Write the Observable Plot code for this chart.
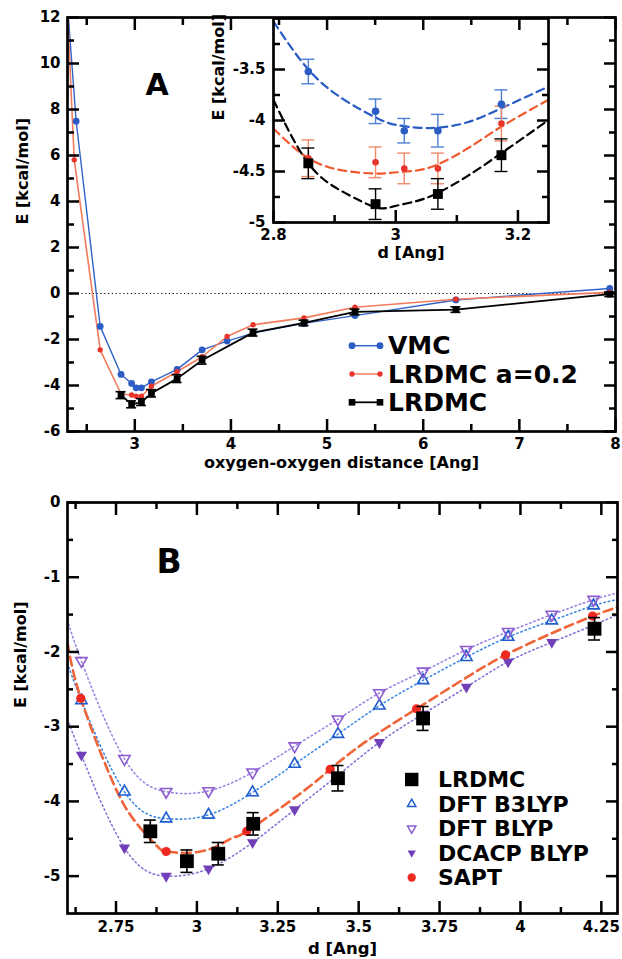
<!DOCTYPE html>
<html>
<head>
<meta charset="utf-8">
<script src="https://cdn.jsdelivr.net/npm/d3@7"></script>
<script src="https://cdn.jsdelivr.net/npm/@observablehq/plot@0.6"></script>
<style>
  html, body { margin: 0; padding: 0; background: #fff; }
  #fig { position: relative; width: 622px; height: 959px; overflow: hidden; background: #fff; }
  #fig > svg { position: absolute; }
</style>
</head>
<body>
<div id="fig"></div>
<script>
// ---------------- Panel A : main curves ----------------
const seriesA = ["VMC", "LRDMC a=0.2", "LRDMC"];
const vmcX   = [2.22, 2.39, 2.64, 2.857, 2.967, 3.014, 3.069, 3.173, 3.44, 3.70, 3.96, 4.23, 4.76, 5.29, 6.34, 7.94];
const vmcE   = [17.0, 7.49, -1.43, -3.52, -3.91, -4.10, -4.10, -3.84, -3.30, -2.45, -2.07, -1.72, -1.30, -0.96, -0.28, 0.22];
const lr02X  = [2.22, 2.37, 2.64, 2.857, 2.967, 3.014, 3.069, 3.173, 3.44, 3.70, 3.96, 4.23, 4.76, 5.29, 6.34, 7.94];
const lr02E  = [19.6, 5.81, -2.45, -4.37, -4.41, -4.47, -4.47, -4.03, -3.40, -2.75, -1.87, -1.36, -1.06, -0.60, -0.25, 0.05];
const lrdmcX   = [2.857, 2.967, 3.069, 3.173, 3.44, 3.70, 4.23, 4.76, 5.29, 6.34, 7.94];
const lrdmcE   = [-4.42, -4.82, -4.72, -4.34, -3.70, -2.90, -1.70, -1.28, -0.80, -0.70, -0.03];
const lrdmcErr = [0.15, 0.15, 0.15, 0.16, 0.17, 0.17, 0.15, 0.12, 0.12, 0.12, 0.10];
const zeroLineX = [2.45, 8];
const aXMajor = [3, 4, 5, 6, 7, 8];
const aXMinor = [2.5, 3.5, 4.5, 5.5, 6.5, 7.5];
const aYMajor = [12, 10, 8, 6, 4, 2, 0, -2, -4, -6];
const aYMinor = [11, 9, 7, 5, 3, 1, -1, -3, -5];

// ---------------- Panel A : inset ----------------
const insetD        = [2.857, 2.967, 3.014, 3.069, 3.173];
const insetVmcE     = [-3.52, -3.91, -4.10, -4.10, -3.84];
const insetVmcErr   = [0.12, 0.12, 0.12, 0.16, 0.14];
const insetLr02E    = [-4.37, -4.41, -4.47, -4.47, -4.03];
const insetLr02Err  = [0.18, 0.15, 0.15, 0.15, 0.17];
const insetLrdmcD   = [2.857, 2.967, 3.069, 3.173];
const insetLrdmcE   = [-4.42, -4.82, -4.72, -4.34];
const insetLrdmcErr = [0.15, 0.15, 0.15, 0.16];
const insetFitD     = [2.8, 2.857, 2.914, 2.967, 2.998, 3.034, 3.069, 3.116, 3.173, 3.249];
const insetFitVmc   = [-3.03, -3.50, -3.79, -3.97, -4.04, -4.07, -4.07, -4.02, -3.88, -3.67];
const insetFitLr02  = [-4.08, -4.37, -4.49, -4.52, -4.51, -4.49, -4.43, -4.28, -4.06, -3.80];
const insetFitLrdmc = [-3.80, -4.42, -4.70, -4.85, -4.84, -4.79, -4.71, -4.55, -4.32, -4.00];
const inXMajor = [2.8, 3, 3.2];
const inXMinor = [2.9, 3.1];
const inYMajor = [-3.5, -4, -4.5, -5];
const inYMinor = [-3.25, -3.75, -4.25, -4.75];

// ---------------- Panel B ----------------
const seriesB = ["LRDMC", "DFT B3LYP", "DFT BLYP", "DCACP BLYP", "SAPT"];
const bLrdmcD   = [2.856, 2.969, 3.066, 3.174, 3.436, 3.699, 4.229];
const bLrdmcE   = [-4.40, -4.80, -4.70, -4.30, -3.69, -2.89, -1.69];
const bLrdmcErr = [0.15, 0.15, 0.15, 0.15, 0.17, 0.16, 0.15];
const dftD   = [2.643, 2.776, 2.905, 3.036, 3.172, 3.302, 3.436, 3.564, 3.699, 3.833, 3.962, 4.097, 4.226];
const b3lypE = [-2.65, -3.87, -4.23, -4.18, -3.88, -3.50, -3.10, -2.72, -2.38, -2.07, -1.80, -1.58, -1.38];
const blypE  = [-2.12, -3.43, -3.87, -3.86, -3.61, -3.26, -2.90, -2.55, -2.26, -1.97, -1.73, -1.50, -1.30];
const dcacpE = [-3.38, -4.62, -5.00, -4.90, -4.55, -4.11, -3.65, -3.21, -2.83, -2.47, -2.13, -1.87, -1.64];
const fitEdgeD   = [2.6, 4.3];
const b3lypEdge  = [-2.15, -1.30];
const blypEdge   = [-1.57, -1.21];
const dcacpEdge  = [-2.90, -1.50];
const saptD = [2.641, 2.905, 3.154, 3.412, 3.679, 3.954, 4.223];
const saptE = [-2.62, -4.67, -4.40, -3.57, -2.76, -2.04, -1.52];
const saptFitD = [2.6, 2.641, 2.733, 2.804, 2.877, 2.905, 2.968, 3.051, 3.113, 3.154, 3.318, 3.412, 3.522, 3.679, 3.83, 3.954, 4.097, 4.223, 4.3];
const saptFitE = [-1.88, -2.62, -3.67, -4.24, -4.60, -4.67, -4.69, -4.62, -4.48, -4.40, -3.90, -3.57, -3.20, -2.76, -2.35, -2.04, -1.75, -1.52, -1.40];
const bXMajor = [2.75, 3, 3.25, 3.5, 3.75, 4, 4.25];
const bXMinor = [2.625, 2.875, 3.125, 3.375, 3.625, 3.875, 4.125];
const bYMajor = [0, -1, -2, -3, -4, -5];
const bYMinor = [-0.5, -1.5, -2.5, -3.5, -4.5];

// ---------------- helpers ----------------
const pts = (xs, ys, errs) => xs.map((x, i) => ({x, e: ys[i], err: errs ? errs[i] : 0}));
const fmt = d => String(d);
const FONT = "DejaVu Sans";

function layout(L) {
  L.kx = (L.xDom[1] - L.xDom[0]) / (L.width - L.ml - L.mr);
  L.ky = (L.yDom[1] - L.yDom[0]) / (L.height - L.mt - L.mb);
  return L;
}

// inward ticks drawn with Plot axis marks (negative tickSize points into the frame)
function boxAxes(L, {xMajor, xMinor, yMajor, yMinor, big = 12, small = 6, fs = 15, xPad = 7, yPad = 7, top = true, right = true, sw = 2.5}) {
  const t = {tickFormat: () => "", label: null, strokeWidth: sw, stroke: "#000"};
  const marks = [
    Plot.axisX(xMajor, {anchor: "bottom", tickSize: 0, tickPadding: xPad, tickFormat: fmt, fontSize: fs, fontWeight: "bold", label: null}),
    Plot.axisY(yMajor, {anchor: "left", tickSize: 0, tickPadding: yPad, tickFormat: fmt, fontSize: fs, fontWeight: "bold", label: null}),
    Plot.axisX(xMajor, {anchor: "bottom", tickSize: -big, ...t}),
    Plot.axisX(xMinor, {anchor: "bottom", tickSize: -small, ...t}),
    Plot.axisY(yMajor, {anchor: "left", tickSize: -big, ...t}),
    Plot.axisY(yMinor, {anchor: "left", tickSize: -small, ...t})
  ];
  if (top) marks.push(Plot.axisX(xMajor, {anchor: "top", tickSize: -big, ...t}), Plot.axisX(xMinor, {anchor: "top", tickSize: -small, ...t}));
  if (right) marks.push(Plot.axisY(yMajor, {anchor: "right", tickSize: -big, ...t}), Plot.axisY(yMinor, {anchor: "right", tickSize: -small, ...t}));
  return marks;
}

function errorBars(L, data, color, capHalf, sw) {
  const w = capHalf * L.kx;
  return [
    Plot.ruleX(data, {x: "x", y1: d => d.e - d.err, y2: d => d.e + d.err, stroke: color, strokeWidth: sw}),
    Plot.ruleY(data, {y: d => d.e - d.err, x1: d => d.x - w, x2: d => d.x + w, stroke: color, strokeWidth: sw}),
    Plot.ruleY(data, {y: d => d.e + d.err, x1: d => d.x - w, x2: d => d.x + w, stroke: color, strokeWidth: sw})
  ];
}

const C = {
  vmc: "#2a5cc4", vmcLine: "#3263c8", vmcBar: "#4d7fd6",
  lr02: "#e8342a", lr02Line: "#f27b5c", lr02Dash: "#f0582e", lr02Bar: "#f2896a",
  black: "#000",
  b3: "#1f5ccc", b3Line: "#3f88e2",
  blyp: "#8c5bcf", blypLine: "#9a84e2",
  dcacp: "#7140b8", dcacpLine: "#8772d8",
  sapt: "#ee2a20", saptLine: "#f0643a"
};
const baseStyle = {fontFamily: FONT, fontWeight: "bold", fontSize: "15px"};
const dims = L => ({width: L.width, height: L.height, marginTop: L.mt, marginLeft: L.ml, marginRight: L.mr, marginBottom: L.mb,
                    x: {domain: L.xDom}, y: {domain: L.yDom}});

const fig = document.getElementById("fig");

// ---------------- Panel A main ----------------
const LA = layout({width: 622, height: 480, mt: 17, ml: 67, mr: 7, mb: 49, xDom: [2.3, 8], yDom: [-6, 12]});
const vmc = pts(vmcX, vmcE), lr02 = pts(lr02X, lr02E), lrdmc = pts(lrdmcX, lrdmcE, lrdmcErr);
const chartA = Plot.plot({
  ...dims(LA),
  style: {...baseStyle, background: "#fff"},
  marks: [
    Plot.ruleY([{x1: zeroLineX[0], x2: zeroLineX[1], y: 0}], {x1: "x1", x2: "x2", y: "y", stroke: "#000", strokeWidth: 1.1, strokeDasharray: "1.2,2.6"}),
    Plot.line(vmc, {x: "x", y: "e", stroke: C.vmcLine, strokeWidth: 1.4, clip: true}),
    Plot.line(lr02, {x: "x", y: "e", stroke: C.lr02Line, strokeWidth: 1.6, clip: true}),
    Plot.dot(vmc, {x: "x", y: "e", fill: C.vmc, r: 3.4, clip: true}),
    Plot.dot(lr02, {x: "x", y: "e", fill: C.lr02, r: 2.7, clip: true}),
    ...errorBars(LA, lrdmc, C.black, 5, 1.6),
    Plot.line(lrdmc, {x: "x", y: "e", stroke: C.black, strokeWidth: 1.8}),
    Plot.dot(lrdmc, {x: "x", y: "e", symbol: "square", fill: C.black, r: 3.8}),
    Plot.frame({stroke: "#000", strokeWidth: 2.7}),
    ...boxAxes(LA, {xMajor: aXMajor, xMinor: aXMinor, yMajor: aYMajor, yMinor: aYMinor, big: 12, small: 7, xPad: 7, yPad: 7}),
    Plot.text(["A"], {frameAnchor: "top-left", dx: 78, dy: 56, fontSize: 30, fontWeight: "bold"}),
    Plot.text(["oxygen-oxygen distance [Ang]"], {frameAnchor: "bottom", dy: 36, fontSize: 16, fontWeight: "bold"}),
    Plot.text(["E [kcal/mol]"], {frameAnchor: "left", dx: -45, rotate: -90, fontSize: 16, fontWeight: "bold"})
  ]
});
chartA.style.left = "0px"; chartA.style.top = "0px";
fig.appendChild(chartA);

// ---------------- Inset ----------------
const LI = layout({width: 360, height: 270, mt: 18, ml: 73, mr: 12, mb: 48, xDom: [2.8, 3.25], yDom: [-5, -3]});
const iVmc = pts(insetD, insetVmcE, insetVmcErr);
const iLr02 = pts(insetD, insetLr02E, insetLr02Err);
const iLrdmc = pts(insetLrdmcD, insetLrdmcE, insetLrdmcErr);
const fVmc = pts(insetFitD, insetFitVmc), fLr02 = pts(insetFitD, insetFitLr02), fLrdmc = pts(insetFitD, insetFitLrdmc);
const chartIn = Plot.plot({
  ...dims(LI),
  style: {...baseStyle, background: "transparent"},
  marks: [
    Plot.line(fVmc, {x: "x", y: "e", stroke: C.vmc, strokeWidth: 2.2, strokeDasharray: "8,5", curve: "natural", clip: true}),
    Plot.line(fLr02, {x: "x", y: "e", stroke: C.lr02Dash, strokeWidth: 2.2, strokeDasharray: "8,5", curve: "natural", clip: true}),
    Plot.line(fLrdmc, {x: "x", y: "e", stroke: C.black, strokeWidth: 2.2, strokeDasharray: "8,5", curve: "natural", clip: true}),
    ...errorBars(LI, iVmc, C.vmcBar, 6.5, 1.4),
    ...errorBars(LI, iLr02, C.lr02Bar, 6.5, 1.4),
    ...errorBars(LI, iLrdmc, C.black, 6.5, 1.4),
    Plot.dot(iVmc, {x: "x", y: "e", fill: C.vmc, r: 3.8}),
    Plot.dot(iLr02, {x: "x", y: "e", fill: C.lr02, r: 3.3}),
    Plot.dot(iLrdmc, {x: "x", y: "e", symbol: "square", fill: C.black, r: 5.6}),
    Plot.frame({stroke: "#000", strokeWidth: 2.7}),
    ...boxAxes(LI, {xMajor: inXMajor, xMinor: inXMinor, yMajor: inYMajor, yMinor: inYMinor, big: 12, small: 7, xPad: 7, yPad: 8, top: false, right: true}),
    Plot.text(["d [Ang]"], {frameAnchor: "bottom", dy: 35, fontSize: 16, fontWeight: "bold"}),
    Plot.text(["E [kcal/mol]"], {frameAnchor: "left", dx: -55, rotate: -90, fontSize: 16, fontWeight: "bold"})
  ]
});
chartIn.style.left = "200px"; chartIn.style.top = "0px";
fig.appendChild(chartIn);

// ---------------- Panel B ----------------
const LB = layout({width: 622, height: 479, mt: 22, ml: 67, mr: 5, mb: 46, xDom: [2.6, 4.3], yDom: [-5.5, 0]});
const withEdges = (ys, edge) => [{x: fitEdgeD[0], e: edge[0]}, ...pts(dftD, ys), {x: fitEdgeD[1], e: edge[1]}];
const bL = pts(bLrdmcD, bLrdmcE, bLrdmcErr);
const b3 = pts(dftD, b3lypE), bl = pts(dftD, blypE), dc = pts(dftD, dcacpE);
const sp = pts(saptD, saptE), spFit = pts(saptFitD, saptFitE);
const dotted = {strokeWidth: 1.6, strokeDasharray: "1.4,3", strokeLinecap: "round", curve: "natural", clip: true};
const chartB = Plot.plot({
  ...dims(LB),
  style: {...baseStyle, background: "#fff"},
  marks: [
    Plot.line(withEdges(blypE, blypEdge), {x: "x", y: "e", stroke: C.blypLine, ...dotted}),
    Plot.line(withEdges(b3lypE, b3lypEdge), {x: "x", y: "e", stroke: C.b3Line, ...dotted}),
    Plot.line(withEdges(dcacpE, dcacpEdge), {x: "x", y: "e", stroke: C.dcacpLine, ...dotted}),
    Plot.line(spFit, {x: "x", y: "e", stroke: C.saptLine, strokeWidth: 2.6, strokeDasharray: "9,5", curve: "natural", clip: true}),
    Plot.dot(b3, {x: "x", y: "e", symbol: "triangle", r: 4.2, stroke: C.b3, fill: "none", strokeWidth: 1.6}),
    Plot.dot(bl, {x: "x", y: "e", symbol: "triangle", rotate: 180, r: 4.2, stroke: C.blyp, fill: "none", strokeWidth: 1.6}),
    Plot.dot(dc, {x: "x", y: "e", symbol: "triangle", rotate: 180, r: 4.2, fill: C.dcacp, stroke: "none"}),
    Plot.dot(sp, {x: "x", y: "e", r: 4.6, fill: C.sapt}),
    ...errorBars(LB, bL, C.black, 6, 1.6),
    Plot.dot(bL, {x: "x", y: "e", symbol: "square", fill: C.black, r: 7.8}),
    Plot.frame({stroke: "#000", strokeWidth: 2.7}),
    ...boxAxes(LB, {xMajor: bXMajor, xMinor: bXMinor, yMajor: bYMajor, yMinor: bYMinor, big: 12, small: 6, xPad: 8, yPad: 7}),
    Plot.text(["B"], {frameAnchor: "top-left", dx: 89, dy: 47, fontSize: 33, fontWeight: "bold"}),
    Plot.text(["d [Ang]"], {frameAnchor: "bottom", dy: 40, fontSize: 16.5, fontWeight: "bold"}),
    Plot.text(["E [kcal/mol]"], {frameAnchor: "left", dx: -47, rotate: -90, fontSize: 16, fontWeight: "bold"})
  ]
});
chartB.style.left = "0px"; chartB.style.top = "480px";
fig.appendChild(chartB);

// ---------------- Legends (overlay) ----------------
const leg = d3.select(fig).append("svg")
  .attr("width", 622).attr("height", 959)
  .style("left", "0px").style("top", "0px").style("pointer-events", "none")
  .attr("font-family", FONT).attr("font-weight", "bold");

const legA = [
  {name: seriesA[0], line: C.vmcLine, mark: C.vmc, sym: d3.symbolCircle, size: 36},
  {name: seriesA[1], line: C.lr02Line, mark: C.lr02, sym: d3.symbolCircle, size: 22},
  {name: seriesA[2], line: C.black, mark: C.black, sym: d3.symbolSquare, size: 44}
];
legA.forEach((d, i) => {
  const y = 345.7 + i * 28.3;
  const g = leg.append("g");
  g.append("line").attr("x1", 352).attr("x2", 380).attr("y1", y).attr("y2", y)
    .attr("stroke", d.line).attr("stroke-width", i === 2 ? 1.8 : 1.5);
  [352, 380].forEach(x => g.append("path").attr("d", d3.symbol(d.sym, d.size)())
    .attr("transform", `translate(${x},${y})`).attr("fill", d.mark));
  g.append("text").attr("x", 388).attr("y", y + 8.6).attr("font-size", 25).attr("fill", "#000").text(d.name);
});

const legB = [
  {name: seriesB[0], sym: d3.symbolSquare, size: 180, fill: C.black, stroke: "none", rot: 0},
  {name: seriesB[1], sym: d3.symbolTriangle, size: 30, fill: "none", stroke: C.b3, rot: 0},
  {name: seriesB[2], sym: d3.symbolTriangle, size: 30, fill: "none", stroke: C.blyp, rot: 180},
  {name: seriesB[3], sym: d3.symbolTriangle, size: 30, fill: C.dcacp, stroke: "none", rot: 180},
  {name: seriesB[4], sym: d3.symbolCircle, size: 55, fill: C.sapt, stroke: "none", rot: 0}
];
legB.forEach((d, i) => {
  const y = 779.5 + i * 24.5;
  leg.append("path").attr("d", d3.symbol(d.sym, d.size)())
    .attr("transform", `translate(411.7,${y}) rotate(${d.rot})`)
    .attr("fill", d.fill).attr("stroke", d.stroke).attr("stroke-width", 1.5);
  leg.append("text").attr("x", 438).attr("y", y + 7.8).attr("font-size", 22).attr("fill", "#000").text(d.name);
});
</script>
</body>
</html>
